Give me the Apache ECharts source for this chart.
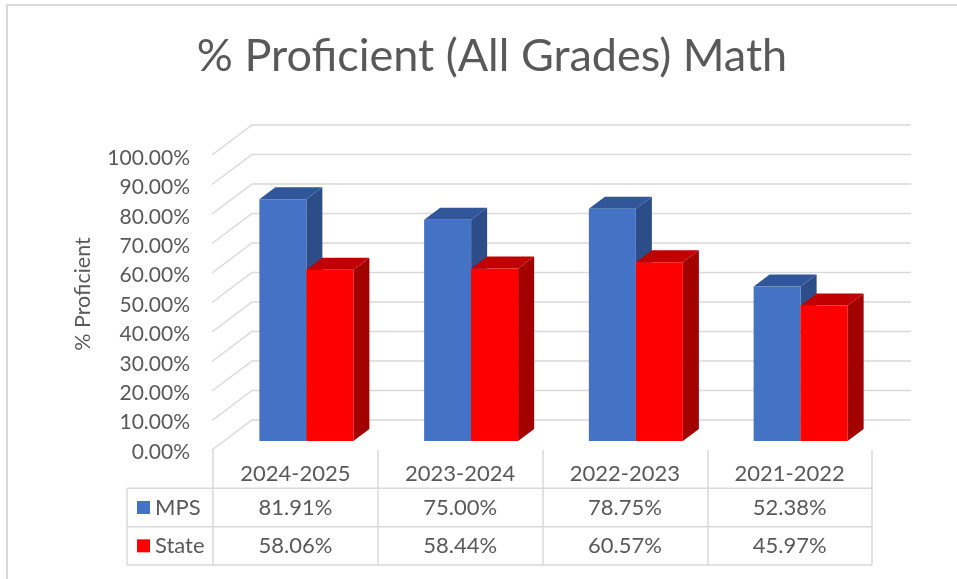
<!DOCTYPE html>
<html><head><meta charset="utf-8">
<script src="https://cdn.jsdelivr.net/npm/echarts@6/dist/echarts.min.js"></script>
<style>html,body{margin:0;padding:0;background:#fff}#c{width:957px;height:579px}</style>
</head><body><div id="c"></div>
<script>
const titleText = '% Proficient (All Grades) Math';
const yAxisTitle = '% Proficient';
const categories = ['2024-2025', '2023-2024', '2022-2023', '2021-2022'];
const seriesNames = ['MPS', 'State'];
const mpsValues = [0.8191, 0.7500, 0.7875, 0.5238];
const stateValues = [0.5806, 0.5844, 0.6057, 0.4597];
const yTicks = [0, 0.1, 0.2, 0.3, 0.4, 0.5, 0.6, 0.7, 0.8, 0.9, 1.0];

const FONT = 'Lato';
const TEXT = '#595959';
const GRIDC = '#D9D9D9';
const palette = [
  { front: '#4472C4', side: '#2C4D87', top: '#31569A' },
  { front: '#FF0000', side: '#A30000', top: '#C00000' }
];
const DEPTH = [16, -12];      // bar depth offset
const BACK = [28, -21];       // back wall offset from bar plane
const FRONT = [-12, 9];       // floor front edge offset from bar plane
const BAR_W = 47;
const HEAD_W = 86;            // width of row-header column of the table
const TFS = 22;               // table font size

const pct = v => (v * 100).toFixed(2) + '%';

function barRender(sIdx) {
  return function (params, api) {
    const i = api.value(0), v = api.value(1);
    const base = api.coord([i, 0]);
    const top = api.coord([i, v]);
    const xL = base[0] - BAR_W + sIdx * BAR_W;
    const xR = xL + BAR_W;
    const c = palette[sIdx];
    const dx = DEPTH[0], dy = DEPTH[1];
    return {
      type: 'group',
      children: [
        { type: 'polygon', shape: { points: [[xR, top[1]], [xR + dx, top[1] + dy], [xR + dx, base[1] + dy], [xR, base[1]]] }, style: { fill: c.side } },
        { type: 'polygon', shape: { points: [[xL, top[1]], [xL + dx, top[1] + dy], [xR + dx, top[1] + dy], [xR, top[1]]] }, style: { fill: c.top } },
        { type: 'rect', shape: { x: xL, y: top[1], width: BAR_W, height: base[1] - top[1] }, style: { fill: c.front } }
      ]
    };
  };
}

function wallRender(params, api) {
  const cs = params.coordSys;
  const y = api.coord([0, api.value(1)])[1];
  const bx0 = cs.x + BACK[0], bx1 = cs.x + cs.width + BACK[0], by = y + BACK[1];
  return {
    type: 'polyline',
    shape: { points: [[cs.x + FRONT[0], y + FRONT[1]], [bx0, by], [bx1, by]] },
    style: { stroke: GRIDC, lineWidth: 1.5, fill: null }
  };
}

function tableRender(params, api) {
  const cs = params.coordSys;
  const i = api.value(0);
  const p1 = api.coord([i, 1]);
  const p2 = api.coord([i, 2]);
  const children = [
    { type: 'text', style: { text: pct(api.value(1)), x: p1[0], y: p1[1], align: 'center', verticalAlign: 'middle', fill: TEXT, font: TFS + 'px ' + FONT } },
    { type: 'text', style: { text: pct(api.value(2)), x: p2[0], y: p2[1], align: 'center', verticalAlign: 'middle', fill: TEXT, font: TFS + 'px ' + FONT } }
  ];
  if (params.dataIndex === 0) {
    const rowH = cs.height / 3;
    const x0 = cs.x - HEAD_W, x1 = cs.x + cs.width;
    for (let k = 1; k <= 3; k++) {
      const y = cs.y + rowH * k;
      children.push({ type: 'line', shape: { x1: x0, y1: y, x2: x1, y2: y }, style: { stroke: GRIDC, lineWidth: 1.5 } });
    }
    children.push({ type: 'line', shape: { x1: x0, y1: cs.y + rowH, x2: x0, y2: cs.y + cs.height }, style: { stroke: GRIDC, lineWidth: 1.5 } });
  }
  return { type: 'group', children };
}

const chart = echarts.init(document.getElementById('c'), null, { renderer: 'canvas' });
chart.setOption({
  animation: false,
  backgroundColor: '#fff',
  textStyle: { fontFamily: FONT },
  title: {
    text: titleText, left: 487, top: 29, textAlign: 'center',
    textStyle: { fontFamily: FONT, fontSize: 45, fontWeight: 'normal', color: TEXT }
  },
  graphic: [
    { type: 'polyline', shape: { points: [[7, 579], [7, 5], [957, 5]] }, style: { stroke: GRIDC, lineWidth: 2, fill: null }, silent: true }
  ],
  grid: [
    { left: 224, width: 659, top: 146, height: 295 },
    { left: 198, width: 1, top: 158, height: 294 },
    { left: 213, width: 659, top: 450, height: 115 }
  ],
  xAxis: [
    { gridIndex: 0, type: 'category', data: categories, show: false },
    { gridIndex: 1, type: 'value', show: false },
    { gridIndex: 2, type: 'category', data: categories, position: 'top',
      axisLine: { show: false }, axisTick: { show: false },
      axisLabel: { inside: true, margin: 13, fontSize: TFS, color: TEXT, fontFamily: FONT },
      splitLine: { show: true, lineStyle: { color: GRIDC, width: 1.5 } } }
  ],
  yAxis: [
    { gridIndex: 0, type: 'value', min: 0, max: 1, interval: 0.1, show: false },
    { gridIndex: 1, type: 'value', min: 0, max: 1, interval: 0.1,
      axisLine: { show: false }, axisTick: { show: false }, splitLine: { show: false },
      axisLabel: { formatter: pct, fontSize: 21, color: TEXT, margin: 8, fontFamily: FONT },
      name: yAxisTitle, nameLocation: 'middle', nameRotate: 90, nameGap: 104,
      nameTextStyle: { fontSize: 21.5, color: TEXT, fontFamily: FONT, padding: [0, 0, 0, 22] } },
    { gridIndex: 2, type: 'category', data: ['', seriesNames[0], seriesNames[1]], inverse: true,
      axisLine: { show: false }, axisTick: { show: false }, splitLine: { show: false },
      axisLabel: {
        align: 'left', margin: HEAD_W - 10, fontSize: TFS, color: TEXT, fontFamily: FONT,
        formatter: (v, idx) => idx === 0 ? '' : '{k' + idx + '|}{t|' + v + '}',
        rich: {
          k1: { width: 13, height: 13, backgroundColor: palette[0].front },
          k2: { width: 13, height: 13, backgroundColor: palette[1].front },
          t: { fontSize: TFS, color: TEXT, fontFamily: FONT, padding: [0, 0, 0, 5] }
        }
      } }
  ],
  series: [
    { type: 'custom', name: 'wall', xAxisIndex: 0, yAxisIndex: 0, z: 1, silent: true,
      data: yTicks.map(v => [0, v]), renderItem: wallRender },
    { type: 'custom', name: seriesNames[0], xAxisIndex: 0, yAxisIndex: 0, z: 2,
      data: mpsValues.map((v, i) => [i, v]), renderItem: barRender(0) },
    { type: 'custom', name: seriesNames[1], xAxisIndex: 0, yAxisIndex: 0, z: 3,
      data: stateValues.map((v, i) => [i, v]), renderItem: barRender(1) },
    { type: 'custom', name: 'table', xAxisIndex: 2, yAxisIndex: 2, z: 4, silent: true,
      data: categories.map((c, i) => [i, mpsValues[i], stateValues[i]]),
      encode: { x: 0, y: -1 }, renderItem: tableRender }
  ]
});
</script></body></html>
